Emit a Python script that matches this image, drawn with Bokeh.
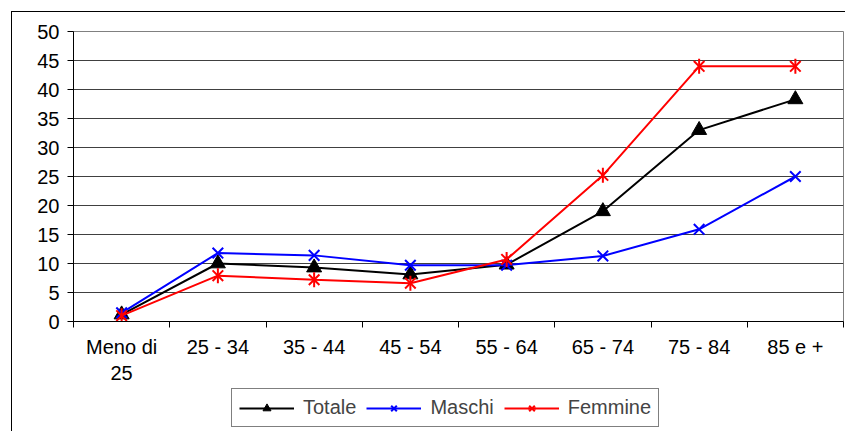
import math
from bokeh.plotting import figure
from bokeh.layouts import column
from bokeh.models import Range1d, FixedTicker, Legend, LegendItem
from bokeh.embed import file_html
from bokeh.resources import INLINE

categories = ["Meno di\n25", "25 - 34", "35 - 44", "45 - 54", "55 - 64", "65 - 74", "75 - 84", "85 e +"]
totale = [1.2, 10.0, 9.3, 8.1, 9.8, 19.0, 33.0, 38.3]
maschi = [1.5, 11.8, 11.4, 9.7, 9.7, 11.3, 15.9, 25.0]
femmine = [1.0, 7.9, 7.2, 6.6, 10.7, 25.2, 44.0, 44.0]
y_ticks = list(range(0, 51, 5))

xs = [i + 0.5 for i in range(len(categories))]
edges = list(range(len(categories) + 1))

FONT = "Liberation Sans"
FS = "20px"

fig = figure(width=833, height=374, output_backend="svg", toolbar_location=None,
             x_range=Range1d(0, len(categories)), y_range=Range1d(0, 50),
             min_border_left=61, min_border_right=2, min_border_top=19, min_border_bottom=65)
fig.outline_line_color = "#808080"
fig.outline_line_width = 1
fig.background_fill_color = "white"
fig.border_fill_color = "white"

# axes
fig.xaxis.ticker = FixedTicker(ticks=xs, minor_ticks=edges)
fig.xaxis.major_label_overrides = {x: c for x, c in zip(xs, categories)}
fig.xaxis.major_tick_out = 0
fig.xaxis.major_tick_in = 0
fig.xaxis.minor_tick_out = 6
fig.xaxis.minor_tick_in = 0
fig.xaxis.minor_tick_line_color = "black"
fig.xaxis.major_label_standoff = 8
fig.xaxis.major_label_text_font = FONT
fig.xaxis.major_label_text_font_size = FS
fig.xaxis.major_label_text_color = "black"
fig.xaxis.axis_line_color = "black"

fig.yaxis.ticker = FixedTicker(ticks=y_ticks)
fig.yaxis.major_tick_out = 6
fig.yaxis.major_tick_in = 0
fig.yaxis.minor_tick_line_color = None
fig.yaxis.major_label_standoff = 8
fig.yaxis.major_label_text_font = FONT
fig.yaxis.major_label_text_font_size = FS
fig.yaxis.major_label_text_color = "black"
fig.yaxis.axis_line_color = "black"

fig.xgrid.visible = False
fig.ygrid.grid_line_color = "#404040"
fig.ygrid.grid_line_width = 1


def draw_series(f):
    out = []
    l = f.line(xs, totale, line_color="black", line_width=2)
    s = f.scatter(xs, totale, marker="triangle", size=15, fill_color="black", line_color="black")
    out.append(LegendItem(label="Totale", renderers=[l, s]))
    l = f.line(xs, maschi, line_color="#0000FF", line_width=2)
    s = f.scatter(xs, maschi, marker="x", size=15, line_color="#0000FF", line_width=2)
    out.append(LegendItem(label="Maschi", renderers=[l, s]))
    l = f.line(xs, femmine, line_color="#FF0000", line_width=2)
    s1 = f.scatter(xs, femmine, marker="x", size=15, line_color="#FF0000", line_width=2)
    s2 = f.scatter(xs, femmine, marker="dash", size=15, angle=math.pi / 2,
                   line_color="#FF0000", line_width=2)
    out.append(LegendItem(label="Femmine", renderers=[l, s1, s2]))
    return out


draw_series(fig)

# legend strip below the chart (same series, drawn outside its visible range)
leg = figure(width=833, height=45, output_backend="svg", toolbar_location=None,
             x_axis_location=None, y_axis_location=None,
             x_range=Range1d(0, len(categories)), y_range=Range1d(-200, -100),
             min_border_left=0, min_border_right=0, min_border_top=0, min_border_bottom=0)
leg.outline_line_color = None
leg.xgrid.visible = False
leg.ygrid.visible = False
leg.background_fill_color = "white"
leg.border_fill_color = "white"
items = draw_series(leg)

legend = Legend(items=items, orientation="horizontal", location=(158, 4),
                border_line_color="black", border_line_width=1,
                label_text_font=FONT, label_text_font_size=FS,
                glyph_width=55, glyph_height=20, label_standoff=9, spacing=10,
                padding=7, margin=0, background_fill_alpha=1)
leg.add_layout(legend, "center")

p = column(fig, leg, spacing=0)
p.margin = (12, 0, 0, 12)
p.styles = {"outline": "1px solid black", "outline-offset": "0px"}

open("out.html", "w").write(file_html(p, INLINE))
